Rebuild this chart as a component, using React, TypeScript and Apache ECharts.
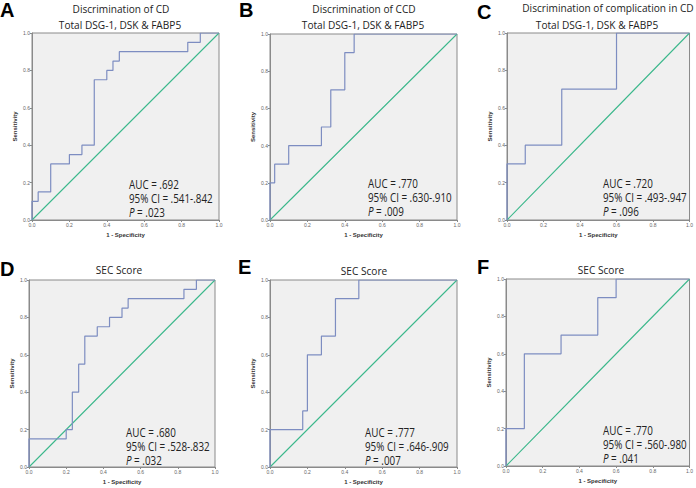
import React, { useEffect, useRef } from "react";
import * as echarts from "echarts";

const panelLetters = ["A", "B", "C", "D", "E", "F"];
const titleLine1 = ["Discrimination of CD", "Discrimination of CCD", "Discrimination of complication in CD", "", "", ""];
const titleLine2 = ["Total DSG-1, DSK & FABP5", "Total DSG-1, DSK & FABP5", "Total DSG-1, DSK & FABP5", "SEC Score", "SEC Score", "SEC Score"];
const aucValues = [".692", ".770", ".720", ".680", ".777", ".770"];
const ciValues = [".541-.842", ".630-.910", ".493-.947", ".528-.832", ".646-.909", ".560-.980"];
const pValues = [".023", ".009", ".096", ".032", ".007", ".041"];
const axisTicks = [0, 0.2, 0.4, 0.6, 0.8, 1.0];

// ROC coordinates (1 - specificity, sensitivity)
const fprA = [0, 0, 0.033, 0.033, 0.1, 0.1, 0.2, 0.2, 0.267, 0.267, 0.333, 0.333, 0.4, 0.4, 0.433, 0.433, 0.467, 0.467, 0.833, 0.833, 0.9, 0.9, 1];
const tprA = [0, 0.1, 0.1, 0.15, 0.15, 0.3, 0.3, 0.35, 0.35, 0.4, 0.4, 0.75, 0.75, 0.8, 0.8, 0.85, 0.85, 0.9, 0.9, 0.95, 0.95, 1, 1];
const fprB = [0, 0, 0.025, 0.025, 0.1, 0.1, 0.275, 0.275, 0.325, 0.325, 0.4, 0.4, 0.45, 0.45, 1];
const tprB = [0, 0.2, 0.2, 0.3, 0.3, 0.4, 0.4, 0.5, 0.5, 0.7, 0.7, 0.9, 0.9, 1, 1];
const fprC = [0, 0, 0.1, 0.1, 0.3, 0.3, 0.6, 0.6, 1];
const tprC = [0, 0.3, 0.3, 0.4, 0.4, 0.7, 0.7, 1, 1];
const fprD = [0, 0, 0.2, 0.2, 0.233, 0.233, 0.267, 0.267, 0.3, 0.3, 0.367, 0.367, 0.433, 0.433, 0.5, 0.5, 0.533, 0.533, 0.833, 0.833, 0.9, 0.9, 1];
const tprD = [0, 0.15, 0.15, 0.2, 0.2, 0.4, 0.4, 0.55, 0.55, 0.7, 0.7, 0.75, 0.75, 0.8, 0.8, 0.85, 0.85, 0.9, 0.9, 0.95, 0.95, 1, 1];
const fprE = [0, 0, 0.175, 0.175, 0.2, 0.2, 0.275, 0.275, 0.35, 0.35, 0.475, 0.475, 1];
const tprE = [0, 0.2, 0.2, 0.3, 0.3, 0.6, 0.6, 0.7, 0.7, 0.9, 0.9, 1, 1];
const fprF = [0, 0, 0.1, 0.1, 0.3, 0.3, 0.5, 0.5, 0.6, 0.6, 1];
const tprF = [0, 0.2, 0.2, 0.6, 0.6, 0.7, 0.7, 0.9, 0.9, 1, 1];
const diagX = [0, 0.5, 1];
const diagY = [0, 0.5, 1];

const rocX = [fprA, fprB, fprC, fprD, fprE, fprF];
const rocY = [tprA, tprB, tprC, tprD, tprE, tprF];

// layout (pixels)
const grids = [
  { left: 32, top: 33, width: 187, height: 187 },
  { left: 270, top: 34, width: 187, height: 186 },
  { left: 507, top: 33, width: 185, height: 187 },
  { left: 29, top: 280, width: 186, height: 187 },
  { left: 270, top: 280, width: 187, height: 187 },
  { left: 506, top: 279, width: 186, height: 187 },
];
const letterPos = [
  [0, 10], [239, 10], [477, 12], [0, 269], [238, 267], [477, 267],
];
const title1Pos = [[121, 8], [364, 8], [608, 7.5], [0, 0], [0, 0], [0, 0]];
const title2Pos = [[120, 24], [363, 24], [597, 24.5], [119, 269], [364, 270], [601, 269]];
const statPos = [
  [129, 184], [368, 183], [603, 183], [126, 432], [365, 432], [603, 430],
];

const CURVE = "#7d8dc1";
const DIAG = "#3db88c";
const AXIS = "#8a8a8a";
const TXT_FONT = "'Open Sans', 'Noto Sans', sans-serif";
const SX = 0.82;
const SXT = 0.88;

export default function App() {
  const ref = useRef<HTMLDivElement>(null);
  useEffect(() => {
    if (!ref.current) return;
    const chart = echarts.init(ref.current, null, { renderer: "svg" });
    const xAxes: any[] = [];
    const yAxes: any[] = [];
    const series: any[] = [];
    const graphics: any[] = [];
    const fmt = (v: number) => (axisTicks.indexOf(Math.round(v * 10) / 10) >= 0 ? v.toFixed(1) : "");
    grids.forEach((g, i) => {
      const common = {
        type: "value",
        gridIndex: i,
        min: 0,
        max: 1,
        interval: 0.2,
        splitLine: { show: false },
        axisLine: { show: true, lineStyle: { color: AXIS, width: 1 } },
        axisTick: { show: true, length: 2, lineStyle: { color: AXIS } },
        axisLabel: { fontSize: 5, color: "#666", margin: 2, fontFamily: "Liberation Sans", formatter: fmt },
        nameLocation: "middle",
        nameTextStyle: { fontSize: 6, fontWeight: "bold", color: "#333", fontFamily: "Liberation Sans" },
      };
      xAxes.push({ ...common, name: "1 - Specificity", nameGap: 12 });
      yAxes.push({ ...common, name: "Sensitivity", nameGap: 14 });
      series.push({
        type: "line",
        xAxisIndex: i,
        yAxisIndex: i,
        color: DIAG,
        data: diagX.map((x, k) => [x, diagY[k]]),
        showSymbol: false,
        itemStyle: { color: DIAG },
        lineStyle: { color: DIAG, width: 1.1 },
        z: 2,
      });
      series.push({
        type: "line",
        xAxisIndex: i,
        yAxisIndex: i,
        color: CURVE,
        data: rocX[i].map((x, k) => [x, rocY[i][k]]),
        showSymbol: false,
        itemStyle: { color: CURVE },
        lineStyle: { color: CURVE, width: 1.2 },
        z: 3,
      });
      graphics.push({
        type: "text",
        x: letterPos[i][0],
        y: letterPos[i][1],
        style: {
          text: panelLetters[i],
          fontSize: 20,
          fontWeight: "bold",
          fontFamily: "Liberation Sans",
          fill: "#000",
          textAlign: "left",
          textVerticalAlign: "middle",
          verticalAlign: "middle",
        },
      });
      if (titleLine1[i]) {
        graphics.push({
          type: "text",
          x: title1Pos[i][0],
          y: title1Pos[i][1],
          scaleX: SXT,
          style: {
            text: titleLine1[i],
            fontSize: 11.5,
            fontFamily: TXT_FONT,
            fill: "#222",
            textAlign: "center",
            textVerticalAlign: "middle",
            verticalAlign: "middle",
          },
        });
      }
      graphics.push({
        type: "text",
        x: title2Pos[i][0],
        y: title2Pos[i][1],
        scaleX: SXT,
        style: {
          text: titleLine2[i],
          fontSize: 11.5,
          fontFamily: TXT_FONT,
          fill: "#222",
          textAlign: "center",
          textVerticalAlign: "middle",
          verticalAlign: "middle",
        },
      });
      const lines = [
        "AUC = " + aucValues[i],
        "95% CI = " + ciValues[i],
        "{i|P} = " + pValues[i],
      ];
      const dy = [0, 14.5, 28];
      lines.forEach((t, k) => {
        graphics.push({
          type: "text",
          x: statPos[i][0],
          y: statPos[i][1] + dy[k],
          scaleX: SX,
          z: 10,
          style: {
            text: t,
            fontSize: 12,
            fontFamily: TXT_FONT,
            fill: "#222",
            textAlign: "left",
            textVerticalAlign: "middle",
            verticalAlign: "middle",
            rich: {
              i: { fontStyle: "italic", fontSize: 12, fontFamily: TXT_FONT, fill: "#222" },
            },
          },
        });
      });
    });
    chart.setOption({
      animation: false,
      backgroundColor: "#ffffff",
      grid: grids.map((g) => ({
        ...g,
        show: true,
        backgroundColor: "#f0f0f0",
        borderColor: AXIS,
        borderWidth: 1,
        containLabel: false,
      })),
      xAxis: xAxes,
      yAxis: yAxes,
      series,
      graphic: graphics,
    });
    return () => chart.dispose();
  }, []);
  return (
    <div
      ref={ref}
      style={{ position: "fixed", left: 0, top: 0, width: 696, height: 488, background: "#fff" }}
    />
  );
}
